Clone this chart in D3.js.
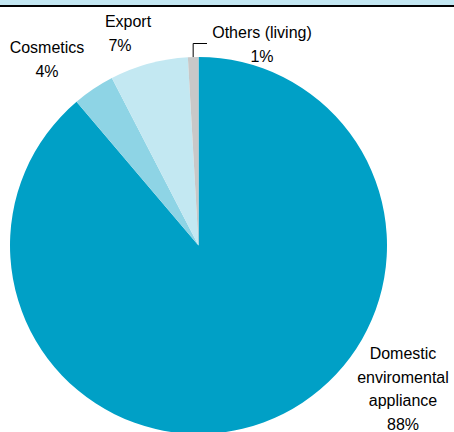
<!DOCTYPE html>
<html>
<head>
<meta charset="utf-8">
<script src="https://cdn.jsdelivr.net/npm/d3@7"></script>
<style>
  html, body { margin: 0; padding: 0; background: #fff; }
  svg text { font-family: "Liberation Sans", Arial, sans-serif; font-size: 16px; fill: #000; }
</style>
</head>
<body>
<svg id="chart" width="454" height="432"></svg>
<script>
// Share of sales by segment (clockwise from 12 o'clock)
const segments = ["Domestic enviromental appliance", "Cosmetics", "Export", "Others (living)"];
const shares = [88.8, 3.6, 6.7, 0.9];
const shareLabels = ["88%", "4%", "7%", "1%"];
const colors = ["#00a0c6", "#8ed4e5", "#c3e8f2", "#c8c8c8"];

const width = 454;
const height = 432;
const svg = d3.select("#chart");

// header band with dark rule under it
svg.append("rect").attr("x", 0).attr("y", 0).attr("width", width).attr("height", 5).attr("fill", "#c3e7f2");
svg.append("rect").attr("x", 0).attr("y", 5).attr("width", width).attr("height", 2).attr("fill", "#000");

const cx = 198.5, cy = 245.5, radius = 188.5;

const data = segments.map((s, i) => ({ name: s, value: shares[i], label: shareLabels[i], color: colors[i] }));

const pie = d3.pie().sort(null).value(d => d.value);
const arc = d3.arc().innerRadius(0).outerRadius(radius);

const g = svg.append("g").attr("transform", `translate(${cx},${cy})`);
g.selectAll("path")
  .data(pie(data))
  .join("path")
  .attr("d", arc)
  .attr("fill", d => d.data.color);

// label positions (text lines + percentage), placed like the original
const labelPos = [
  { x: 403, lines: ["Domestic", "enviromental", "appliance"], y: 359 },
  { x: 47, lines: ["Cosmetics"], y: 53 },
  { x: 128, lines: ["Export"], y: 27, pctX: 120 },
  { x: 262, lines: ["Others (living)"], y: 38 }
];
const lineH = 23.7;

data.forEach((d, i) => {
  const p = labelPos[i];
  const t = svg.append("text").attr("text-anchor", "middle");
  p.lines.forEach((ln, j) => {
    t.append("tspan").attr("x", p.x).attr("y", p.y + j * lineH).text(ln);
  });
  t.append("tspan").attr("x", p.pctX || p.x).attr("y", p.y + p.lines.length * lineH).text(d.label);
});

// leader line for the small "Others" slice
const others = pie(data)[3];
const mid = (others.startAngle + others.endAngle) / 2;
const sx = cx + Math.sin(mid) * radius, sy = cy - Math.cos(mid) * radius;
svg.append("path")
  .attr("d", `M${sx},${sy} V${43.5} H${207}`)
  .attr("fill", "none")
  .attr("stroke", "#000")
  .attr("stroke-width", 1);
</script>
</body>
</html>
